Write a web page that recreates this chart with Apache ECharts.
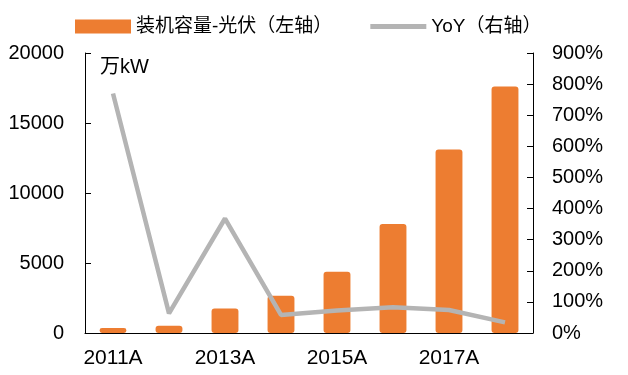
<!DOCTYPE html>
<html>
<head>
<meta charset="utf-8">
<script src="https://cdn.jsdelivr.net/npm/echarts@6/dist/echarts.min.js"></script>
<style>html,body{margin:0;padding:0;background:#fff;}#c{width:628px;height:375px;}</style>
</head>
<body>
<div id="c"></div>
<script>
var categories = ['2011A','2012A','2013A','2014A','2015A','2016A','2017A','2018A'];
var capacity = [350, 520, 1750, 2660, 4380, 7780, 13100, 17600];
var yoy = [770, 63, 368, 58, 72, 83, 74, 34];
var leftTicks = [0, 5000, 10000, 15000, 20000];
var rightTicks = [0, 100, 200, 300, 400, 500, 600, 700, 800, 900];

var font = '"Liberation Sans", Arial, "Noto Sans CJK SC", sans-serif';
var chart = echarts.init(document.getElementById('c'));
chart.setOption({
  animation: false,
  backgroundColor: '#fff',
  textStyle: { fontFamily: font, color: '#000' },
  legend: {
    left: 75, top: 17, padding: 0,
    itemWidth: 56, itemHeight: 14, itemGap: 38,
    textStyle: { fontSize: 19, color: '#000', fontFamily: font },
    data: [
      { name: '装机容量-光伏（左轴）', icon: 'rect' },
      { name: 'YoY（右轴）', icon: 'path://M0,0 L56,0 L56,5 L0,5 Z', itemStyle: { color: '#B4B4B4' } }
    ]
  },
  grid: { left: 85, right: 95, top: 53, bottom: 42, containLabel: false },
  graphic: [{
    type: 'text', left: 100, top: 57,
    style: { text: '万kW', font: '20px ' + font, fill: '#000' }
  }],
  xAxis: {
    type: 'category', data: categories, boundaryGap: true,
    axisLine: { lineStyle: { color: '#000', width: 1 } },
    axisTick: { inside: true, length: 6, interval: 0, lineStyle: { color: '#000' } },
    axisLabel: { interval: 1, fontSize: 21, color: '#000', margin: 15 },
    splitLine: { show: false }
  },
  yAxis: [{
    type: 'value', min: leftTicks[0], max: leftTicks[leftTicks.length-1], interval: 5000,
    axisLine: { show: true, lineStyle: { color: '#000' } },
    axisTick: { show: true, inside: true, length: 6, lineStyle: { color: '#000' } },
    axisLabel: { fontSize: 20, color: '#000', margin: 21, formatter: function (v) { return String(v); } },
    splitLine: { show: false }
  }, {
    type: 'value', min: rightTicks[0], max: rightTicks[rightTicks.length-1], interval: 100,
    axisLine: { show: true, lineStyle: { color: '#000' } },
    axisTick: { show: true, inside: true, length: 6, lineStyle: { color: '#000' } },
    axisLabel: { fontSize: 20, color: '#000', margin: 19, formatter: '{value}%' },
    splitLine: { show: false }
  }],
  series: [{
    name: '装机容量-光伏（左轴）', type: 'bar', yAxisIndex: 0,
    data: capacity, barWidth: '48%',
    itemStyle: { color: '#ED7D31', borderRadius: 3 }
  }, {
    name: 'YoY（右轴）', type: 'line', yAxisIndex: 1,
    data: yoy, symbol: 'none', showSymbol: false,
    lineStyle: { color: '#B4B4B4', width: 4.5 },
    itemStyle: { color: '#B4B4B4' }
  }]
});
</script>
</body>
</html>
